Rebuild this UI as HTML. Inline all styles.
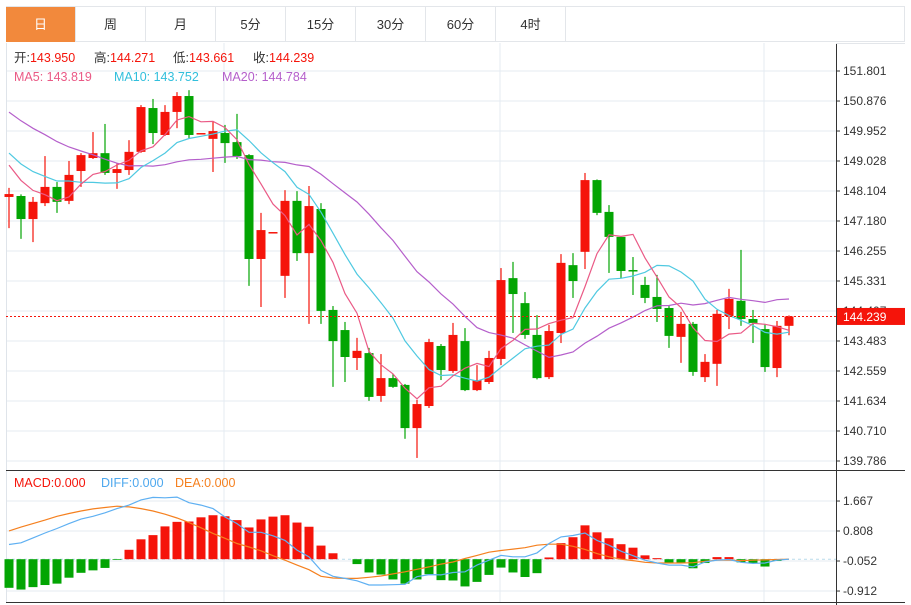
<!DOCTYPE html>
<html><head><meta charset="utf-8">
<style>
body{margin:0;background:#fff;width:911px;height:605px;overflow:hidden;font-family:"Liberation Sans","Noto Sans CJK SC",sans-serif;}
#tabs{position:absolute;left:6px;top:6px;width:899px;height:36px;border:1px solid #e3e6ea;border-left:none;box-sizing:border-box;}
.tab{position:absolute;top:0;height:35px;width:70px;border-right:1px solid #e3e6ea;text-align:center;line-height:35px;font-size:13px;color:#333;box-sizing:border-box;}
.tab.on{background:#f2893c;color:#fff;}
svg{position:absolute;left:0;top:0;}
</style></head><body>
<div id="tabs">
<div class="tab on" style="left:0">日</div>
<div class="tab" style="left:70px">周</div>
<div class="tab" style="left:140px">月</div>
<div class="tab" style="left:210px">5分</div>
<div class="tab" style="left:280px">15分</div>
<div class="tab" style="left:350px">30分</div>
<div class="tab" style="left:420px">60分</div>
<div class="tab" style="left:490px">4时</div>
</div>
<svg id="chart" width="911" height="605" style="top:0"></svg>
<script>
const opens=[147.92,147.95,147.24,147.73,148.23,147.80,148.72,149.12,149.27,148.66,148.75,149.31,150.66,149.83,150.54,151.03,149.89,149.71,149.89,149.61,149.21,146.01,146.84,145.49,147.80,146.19,147.55,144.44,143.82,142.96,143.11,141.79,142.34,142.13,140.80,141.48,143.33,142.56,143.48,141.97,142.22,142.93,145.42,144.65,143.67,142.37,143.73,145.82,146.23,148.44,147.46,146.69,145.67,145.21,144.84,144.50,143.61,144.01,142.37,142.78,144.25,144.72,144.16,143.85,142.65,143.950];
const highs=[148.20,148.00,147.92,149.18,148.38,149.03,149.27,149.92,150.17,148.97,149.67,150.75,150.94,150.75,151.15,151.21,149.89,150.26,150.14,150.48,149.24,147.43,146.84,148.13,148.10,148.26,147.73,144.56,144.07,143.58,143.27,143.08,142.47,142.16,141.67,143.55,143.39,144.04,143.88,142.74,143.18,145.73,145.92,144.99,144.28,143.98,146.16,146.19,148.66,148.46,147.67,146.69,146.07,145.46,145.52,144.56,144.38,144.07,143.08,144.44,145.09,146.29,144.44,144.01,144.10,144.271];
const lows=[146.96,146.63,146.53,147.64,147.43,147.70,148.23,149.09,148.60,148.17,148.60,149.28,149.55,149.80,150.04,149.71,149.89,148.69,148.97,149.09,145.18,144.53,146.84,144.81,145.95,144.01,144.01,142.07,142.22,142.59,141.64,141.61,142.04,140.47,139.88,141.42,142.28,142.50,141.94,141.94,142.16,142.74,143.73,143.55,142.30,142.31,143.42,144.81,145.70,147.36,145.58,145.42,144.90,144.65,144.07,143.27,142.81,142.41,142.22,142.10,143.85,143.95,143.42,142.53,142.37,143.661];
const closes=[148.01,147.24,147.77,148.23,147.77,148.60,149.21,149.27,148.66,148.78,149.31,150.69,149.89,150.54,151.03,149.83,149.89,149.95,149.58,149.18,146.01,146.90,146.84,147.80,146.19,147.64,144.41,143.48,142.99,143.18,141.76,142.34,142.07,140.80,141.54,143.45,142.59,143.67,141.97,142.28,142.96,145.36,144.93,143.67,142.34,143.79,145.89,145.33,148.44,147.43,146.69,145.64,145.64,144.81,144.47,143.64,144.01,142.53,142.84,144.32,144.78,144.16,144.04,142.68,143.95,144.239];
const priorCloses=[152.6,152.4,152.2,152.0,151.9,151.7,151.6,151.4,151.2,151.0,150.6,150.1,149.7,149.2,148.6,149.6,149.3,148.9,148.7];
const priceTicks=["151.801","150.876","149.952","149.028","148.104","147.180","146.255","145.331","144.407","143.483","142.559","141.634","140.710","139.786"];
const macdHist=[-0.82,-0.87,-0.80,-0.74,-0.70,-0.53,-0.39,-0.32,-0.25,-0.02,0.27,0.57,0.69,0.94,1.07,1.08,1.20,1.26,1.23,1.12,0.91,1.14,1.22,1.26,1.05,0.93,0.39,0.17,0,-0.14,-0.38,-0.44,-0.58,-0.70,-0.58,-0.43,-0.60,-0.61,-0.78,-0.65,-0.45,-0.24,-0.38,-0.51,-0.40,0.05,0.46,0.63,0.97,0.77,0.60,0.43,0.33,0.11,0.03,-0.11,-0.12,-0.26,-0.11,0.06,0.06,-0.09,-0.12,-0.21,-0.05,0];
const diffVals=[0.42,0.47,0.61,0.75,0.88,1.02,1.15,1.23,1.33,1.45,1.55,1.70,1.77,1.76,1.78,1.62,1.55,1.45,1.21,1.02,0.77,0.77,0.67,0.54,0.26,0.07,-0.32,-0.49,-0.55,-0.62,-0.74,-0.74,-0.73,-0.72,-0.50,-0.44,-0.45,-0.38,-0.36,-0.17,-0.03,0.11,0.07,0.07,0.18,0.45,0.64,0.68,0.75,0.54,0.40,0.23,0.10,-0.03,-0.11,-0.17,-0.17,-0.22,-0.08,-0.03,-0.01,-0.09,-0.12,-0.11,-0.03,0.00];
const deaVals=[0.81,0.92,1.02,1.12,1.23,1.31,1.38,1.44,1.48,1.52,1.50,1.45,1.38,1.29,1.18,1.05,0.90,0.74,0.60,0.45,0.35,0.24,0.10,-0.03,-0.17,-0.30,-0.49,-0.54,-0.55,-0.55,-0.52,-0.48,-0.42,-0.36,-0.29,-0.22,-0.14,-0.08,0.02,0.11,0.20,0.25,0.29,0.33,0.40,0.43,0.43,0.37,0.28,0.16,0.07,0.00,-0.04,-0.09,-0.11,-0.11,-0.11,-0.10,-0.06,-0.03,-0.03,-0.04,-0.03,-0.02,-0.01,0.00];
const macdTicks=[1.667,0.808,-0.052,-0.912];

const NS="http://www.w3.org/2000/svg";
const svg=document.getElementById('chart');
const RED="#f5140a",GREEN="#03a503";
function yP(p){return 71+(151.801-p)*30/0.92423;}
function yM(v){return 559.2-v*34.9;}
function xC(i){return 9+12*i;}
function mk(tag,attrs,parent){const e=document.createElementNS(NS,tag);for(const k in attrs)e.setAttribute(k,attrs[k]);(parent||svg).appendChild(e);return e;}

// grids
const grid=mk('g',{});


priceTicks.forEach((t,i)=>{const y=yP(parseFloat(t));mk('line',{x1:6,x2:836,y1:y,y2:y,stroke:'#e4ebf2','stroke-width':1},grid);});
macdTicks.forEach(v=>{const y=yM(v);mk('line',{x1:6,x2:836,y1:y,y2:y,stroke:'#e4ebf2','stroke-width':1},grid);});
[224,500,764].forEach(x=>{mk('line',{x1:x,x2:x,y1:43,y2:602,stroke:'#e4ebf2','stroke-width':1},grid);});
// frame
mk('line',{x1:6.5,x2:6.5,y1:43,y2:602,stroke:'#dfe4ea'});
mk('line',{x1:836.5,x2:836.5,y1:43,y2:605,stroke:'#333'});
mk('line',{x1:6,x2:905,y1:470.5,y2:470.5,stroke:'#333'});
mk('line',{x1:6,x2:905,y1:602.5,y2:602.5,stroke:'#333'});
mk('line',{x1:836,x2:905,y1:43.5,y2:43.5,stroke:'#e3e6ea'});

// price axis
const pax=mk('g',{});


priceTicks.forEach(t=>{const y=yP(parseFloat(t));mk('line',{x1:836,x2:840,y1:y,y2:y,stroke:'#333'},pax);const tx=mk('text',{x:843,y:y+4,'font-size':12,fill:'#333'},pax);tx.textContent=t;});
const max=mk('g',{});


macdTicks.forEach(v=>{const y=yM(v);mk('line',{x1:836,x2:840,y1:y,y2:y,stroke:'#333'},max);const tx=mk('text',{x:843,y:y+4,'font-size':12,fill:'#333'},max);tx.textContent=v.toFixed(3);});

// MA lines
const all=priorCloses.concat(closes);const off=priorCloses.length;
function ma(n){return closes.map((c,i)=>{let s=0;for(let k=0;k<n;k++)s+=all[off+i-k]!==undefined?all[off+i-k]:all[0];return s/n;});}
function line(vals,yf,color,name,x0){const pts=vals.map((v,i)=>xC(i)+','+yf(v).toFixed(1));const p=mk('polyline',{points:pts.join(' '),fill:'none',stroke:color,'stroke-width':1.2});return p;}

// candles
const cg=mk('g',{});


closes.forEach((c,i)=>{
  const o=opens[i],up=c>=o,col=up?RED:GREEN,x=xC(i);
  const g=mk('g',{},cg);
  
  
  mk('line',{x1:x,x2:x,y1:yP(highs[i]),y2:yP(lows[i]),stroke:col,'stroke-width':1.2},g);
  const t=yP(Math.max(o,c)),b=yP(Math.min(o,c));
  mk('rect',{x:x-4.5,y:t,width:9,height:Math.max(1.5,b-t),fill:col},g);
});
line(ma(20),yP,'#b55fcb','ma20-line');
line(ma(10),yP,'#4fc9e1','ma10-line');
line(ma(5),yP,'#ea5a86','ma5-line');

// current price
mk('line',{x1:6,x2:836,y1:yP(closes[closes.length-1]),y2:yP(closes[closes.length-1]),stroke:'#f5140a','stroke-dasharray':'2,2'});
const cy=yP(closes[closes.length-1]);
const cl=mk('g',{});


mk('rect',{x:837,y:cy-8.5,width:68,height:17,fill:'#f5140a'},cl);
const ct=mk('text',{x:843,y:cy+4.5,'font-size':12,fill:'#fff'},cl);ct.textContent=closes[closes.length-1].toFixed(3);

// MACD
mk('line',{x1:6,x2:836,y1:yM(0),y2:yM(0),stroke:'#b9dcec','stroke-dasharray':'3,3'});
const hg=mk('g',{});


macdHist.forEach((v,i)=>{if(Math.abs(v)<0.005)return;const y0=yM(0),y1=yM(v);const r=mk('rect',{x:xC(i)-4.5,y:Math.min(y0,y1),width:9,height:Math.abs(y1-y0),fill:v>0?RED:GREEN},hg);});
line(deaVals,yM,'#f5801f','dea-line');
line(diffVals,yM,'#5fb0f2','diff-line');

// legends
function txt(x,y,s,fill,name,size){const t=mk('text',{x:x,y:y,'font-size':size||12.5,fill:fill});t.textContent=s;return t;}
const info=[['开:','143.950',14],['高:','144.271',94],['低:','143.661',173],['收:','144.239',253]];
info.forEach(a=>{const t=mk('text',{x:a[2],y:62,'font-size':12.5});const s1=mk('tspan',{fill:'#333'},t);s1.textContent=a[0];const s2=mk('tspan',{fill:'#f5140a'},t);s2.textContent=a[1];});
txt(14,81,'MA5: 143.819','#ea5a86','ma5-legend');
txt(114,81,'MA10: 143.752','#31bfdc','ma10-legend');
txt(222,81,'MA20: 144.784','#b55fcb','ma20-legend');
txt(14,487,'MACD:0.000','#f5140a','macd-legend');
txt(101,487,'DIFF:0.000','#4ea8ee','diff-legend');
txt(175,487,'DEA:0.000','#f5801f','dea-legend');
</script>
</body></html>
